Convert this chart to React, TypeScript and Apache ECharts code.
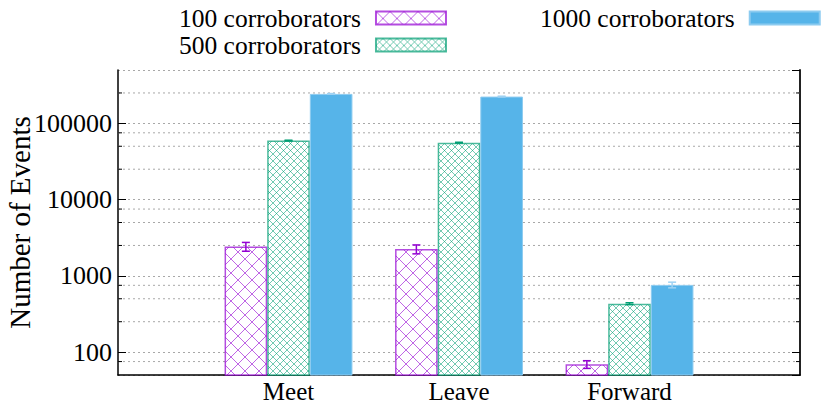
import React, { useEffect, useRef } from 'react';
import * as echarts from 'echarts';

const categories = ['', 'Meet', 'Leave', 'Forward', ''];
const seriesNames = ['100 corroborators', '500 corroborators', '1000 corroborators'];
const values100 = [null, 2420, 2240, 69, null];
const values500 = [null, 59300, 55700, 431, null];
const values1000 = [null, 243000, 224000, 760, null];
const errors100 = [null, 320, 300, 8, null];
const errors500 = [null, 700, 700, 12, null];
const errors1000 = [null, 2500, 2500, 65, null];
const majorTickValues = [100, 1000, 10000, 100000];
const minorGridValues = [75, 250, 500, 750, 2500, 5000, 7500, 25000, 50000, 75000, 250000];
const yMin = 50;
const yMax = 500000;

const FONT = "'Liberation Serif', 'Times New Roman', serif";
const COLORS = ['#9400d3', '#009e73', '#56b4e9'];

function makeHatch(size: number, color: string, alpha: number) {
  const c = document.createElement('canvas');
  c.width = size;
  c.height = size;
  const ctx = c.getContext('2d')!;
  ctx.fillStyle = '#ffffff';
  ctx.fillRect(0, 0, size, size);
  ctx.globalAlpha = alpha;
  ctx.strokeStyle = color;
  ctx.lineWidth = 1;
  ctx.beginPath();
  ctx.moveTo(-1, -1);
  ctx.lineTo(size + 1, size + 1);
  ctx.moveTo(size + 1, -1);
  ctx.lineTo(-1, size + 1);
  ctx.stroke();
  return { image: c, repeat: 'repeat', imageWidth: size, imageHeight: size } as any;
}

function errorSeries(vals: (number | null)[], errs: (number | null)[], k: number, color: string) {
  const data: number[][] = [];
  vals.forEach((v, i) => {
    if (v != null && errs[i] != null) data.push([i, v - (errs[i] as number), v + (errs[i] as number)]);
  });
  return {
    type: 'custom',
    silent: true,
    z: 4,
    xAxisIndex: 0,
    yAxisIndex: 0,
    data,
    renderItem: (params: any, api: any) => {
      const band = api.size([1, 0])[0];
      const off = (k - 1) * band * 0.25;
      const lo = api.coord([api.value(0), api.value(1)]);
      const hi = api.coord([api.value(0), api.value(2)]);
      const x = lo[0] + off;
      const cap = 4;
      const st = { stroke: color, lineWidth: 1.5 };
      return {
        type: 'group',
        children: [
          { type: 'line', shape: { x1: x, y1: lo[1], x2: x, y2: hi[1] }, style: st },
          { type: 'line', shape: { x1: x - cap, y1: lo[1], x2: x + cap, y2: lo[1] }, style: st },
          { type: 'line', shape: { x1: x - cap, y1: hi[1], x2: x + cap, y2: hi[1] }, style: st },
        ],
      };
    },
  };
}

export default function App() {
  const ref = useRef<HTMLDivElement>(null);
  useEffect(() => {
    document.body.style.margin = '0';
    const chart = echarts.init(ref.current!, null, { renderer: 'svg' });
    const hatch100 = makeHatch(14, COLORS[0], 0.6);
    const hatch500 = makeHatch(7, COLORS[1], 0.55);
    const legendText = { fontFamily: FONT, fontSize: 25.5, color: '#000', padding: [0, 10, 0, 0] };
    const option: any = {
      animation: false,
      backgroundColor: '#fff',
      grid: { left: 118, right: 30, top: 70, bottom: 32, outerBoundsMode: 'none' },
      legend: [
        {
          data: [seriesNames[0], seriesNames[1]],
          orient: 'vertical',
          left: 179,
          top: 5,
          align: 'right',
          icon: 'rect',
          itemWidth: 70,
          itemHeight: 13,
          itemGap: 1,
          padding: 0,
          textStyle: legendText,
        },
        {
          data: [seriesNames[2]],
          orient: 'vertical',
          left: 540,
          top: 5,
          align: 'right',
          icon: 'rect',
          itemWidth: 70,
          itemHeight: 13,
          padding: 0,
          textStyle: legendText,
        },
      ],
      xAxis: {
        type: 'category',
        data: categories,
        boundaryGap: false,
        axisLine: { show: true, onZero: false, lineStyle: { color: '#000', width: 1.5 } },
        axisTick: { show: false },
        axisLabel: { fontFamily: FONT, fontSize: 25, color: '#000', margin: 4 },
        splitLine: { show: false },
      },
      yAxis: [
        {
          type: 'log',
          logBase: 10,
          min: yMin,
          max: yMax,
          name: 'Number of Events',
          nameLocation: 'middle',
          nameRotate: 90,
          nameGap: 84,
          nameMoveOverlap: false,
          nameTextStyle: { fontFamily: FONT, fontSize: 29, color: '#000' },
          axisLine: { show: true, lineStyle: { color: '#000', width: 1.5 } },
          axisTick: { show: true, inside: true, length: 8, lineStyle: { color: '#000' } },
          axisLabel: {
            fontFamily: FONT,
            fontSize: 26,
            color: '#000',
            margin: 6,
            showMinLabel: false,
            showMaxLabel: false,
            formatter: (v: number) => (majorTickValues.some((t) => Math.abs(t - v) / t < 1e-6) ? String(Math.round(v)) : ''),
          },
          splitLine: { show: true, lineStyle: { color: '#a8a8a8', type: [2, 3], width: 1 } },
        },
        {
          type: 'log',
          logBase: 10,
          min: yMin,
          max: yMax,
          position: 'right',
          axisLine: { show: true, lineStyle: { color: '#222', width: 2 } },
          axisTick: { show: true, inside: true, length: 8, lineStyle: { color: '#000' } },
          axisLabel: { show: false },
          splitLine: { show: false },
        },
      ],
      series: [
        {
          type: 'custom',
          silent: true,
          z: 1,
          xAxisIndex: 0,
          yAxisIndex: 0,
          data: minorGridValues.map((v) => [0, v]),
          renderItem: (params: any, api: any) => {
            const y = api.coord([0, api.value(1)])[1];
            const cs = params.coordSys;
            return {
              type: 'group',
              children: [
                { type: 'line', shape: { x1: cs.x, y1: y, x2: cs.x + cs.width, y2: y }, style: { stroke: '#a8a8a8', lineWidth: 1, lineDash: [2, 3] } },
                { type: 'line', shape: { x1: cs.x, y1: y, x2: cs.x + 4, y2: y }, style: { stroke: '#000', lineWidth: 1 } },
                { type: 'line', shape: { x1: cs.x + cs.width - 4, y1: y, x2: cs.x + cs.width, y2: y }, style: { stroke: '#000', lineWidth: 1 } },
              ],
            };
          },
        },
        {
          name: seriesNames[0],
          type: 'bar',
          data: values100,
          barGap: '0%',
          barCategoryGap: '25%',
          itemStyle: { color: hatch100, borderColor: 'rgba(148,0,211,0.7)', borderWidth: 1.5 },
        },
        {
          name: seriesNames[1],
          type: 'bar',
          data: values500,
          barGap: '0%',
          barCategoryGap: '25%',
          itemStyle: { color: hatch500, borderColor: 'rgba(0,158,115,0.7)', borderWidth: 1.5 },
        },
        {
          name: seriesNames[2],
          type: 'bar',
          data: values1000,
          barGap: '0%',
          barCategoryGap: '25%',
          itemStyle: { color: COLORS[2], borderColor: '#8ccbf0', borderWidth: 1 },
        },
        errorSeries(values100, errors100, 0, COLORS[0]),
        errorSeries(values500, errors500, 1, COLORS[1]),
        errorSeries(values1000, errors1000, 2, '#9fd2f2'),
      ],
    };
    chart.setOption(option);
    return () => chart.dispose();
  }, []);
  return <div ref={ref} style={{ width: 830, height: 407 }} />;
}
